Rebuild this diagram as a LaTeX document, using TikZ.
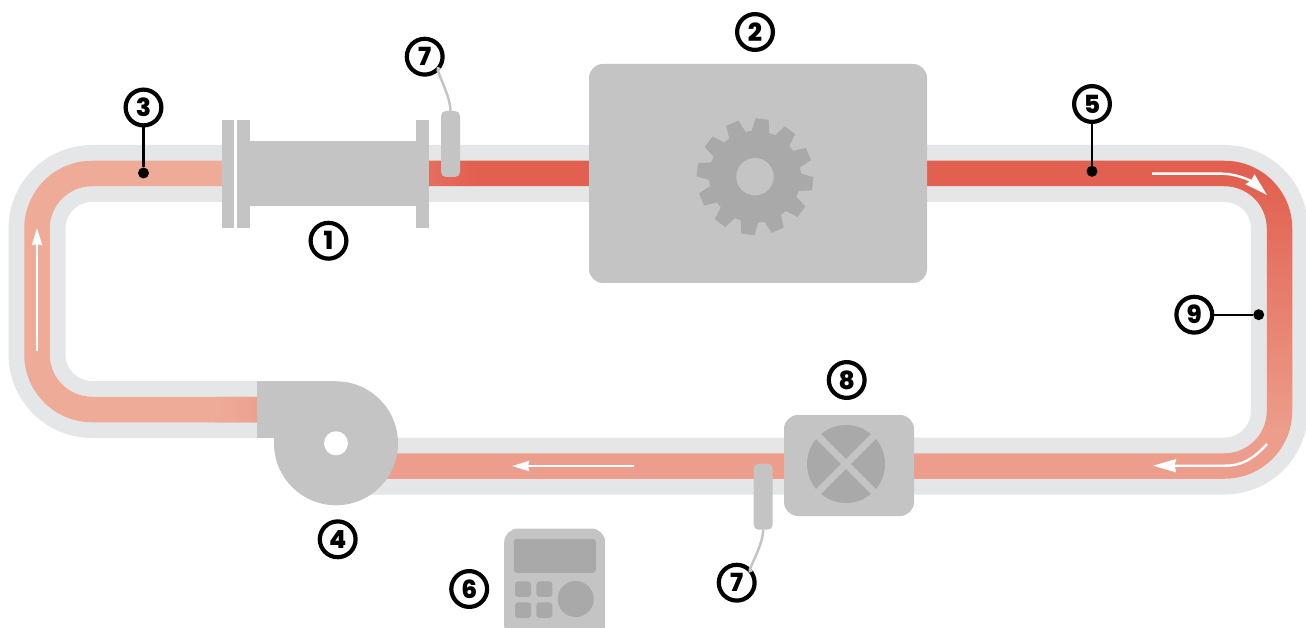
\documentclass[tikz,border=0pt]{standalone}
\usepackage{fontspec}
\setmainfont{Poppins}[BoldFont={Poppins ExtraBold}]
\usepackage{tikz}
\usetikzlibrary{arrows.meta,positioning,calc}
\definecolor{ductGrey}{HTML}{E5E6E8}
\definecolor{unitGrey}{HTML}{C4C4C4}
\definecolor{detailGrey}{HTML}{A9A9A9}
\definecolor{hotRed}{HTML}{E2604F}
\definecolor{warmRed}{HTML}{E56F60}
\definecolor{midSalmon}{HTML}{ED9D8B}
\definecolor{coolSalmon}{HTML}{EEAB98}
\definecolor{deepSalmon}{HTML}{EDA18F}

\begin{document}
\begin{tikzpicture}[
            x=1pt, y=-1pt,
            duct/.style={
                    draw=ductGrey,
                    line width=57pt,
                    rounded corners=55pt
                },
            unit/.style={
                    rectangle,
                    fill=unitGrey,
                    inner sep=0pt,
                    outer sep=0pt
                },
            panel/.style={
                    unit,
                    rounded corners=14pt
                },
            sensor/.style={
                    unit,
                    rounded corners=5pt,
                    minimum width=19pt,
                    minimum height=66pt
                },
            key/.style={
                    rectangle,
                    rounded corners=3pt,
                    fill=detailGrey,
                    inner sep=0pt,
                    minimum width=16pt,
                    minimum height=15.5pt
                },
            number/.style={
                    circle,
                    draw=black,
                    fill=white,
                    line width=4.2pt,
                    minimum size=35.8pt,
                    inner sep=0pt,
                    font=\fontsize{25}{25}\selectfont\bfseries
                },
            dot/.style={
                    circle,
                    fill=black,
                    inner sep=0pt,
                    minimum size=11pt
                },
            leader/.style={draw=black, line width=2.2pt},
            wire/.style={draw=unitGrey, line width=2.5pt},
            flow/.style={
                    -{Stealth[length=17pt, width=10pt, inset=1pt]},
                    draw=white,
                    line width=2.4pt
                },
            bigflow/.style={
                    -{Stealth[length=23pt, width=13pt, inset=1.5pt]},
                    draw=white,
                    line width=2.4pt
                }
        ]
        \useasboundingbox (0,0) rectangle (1306,628);
        \clip (0,0) rectangle (1306,628);

        \draw[duct] (330,466) -- (1279.5,466) -- (1279.5,173.5) -- (37,173.5) -- (37,409.5) -- (257,409.5);

        \begin{scope}
            \clip (330,478.75) [rounded corners=67.75pt] -- (1292.25,478.75) -- (1292.25,160.75)
                -- (24.25,160.75) -- (24.25,422.25) [sharp corners] -- (270,422.25) -- (270,396.75)
                [rounded corners=42.25pt] -- (49.75,396.75) -- (49.75,186.25)
                -- (1266.75,186.25) -- (1266.75,453.25) [sharp corners] -- (330,453.25) -- cycle;
            \fill[coolSalmon] (0,140) rectangle (300,440);
            \shade[left color=coolSalmon, right color=deepSalmon] (215,390) rectangle (258,430);
            \shade[left color=warmRed, right color=hotRed] (425,150) rectangle (475,200);
            \fill[hotRed] (475,150) rectangle (1300,175);
            \fill[hotRed] (475,175) rectangle (1225,200);
            \shade[top color=hotRed, bottom color=midSalmon] (1225,175) rectangle (1300,430);
            \fill[midSalmon] (300,430) rectangle (1300,490);
        \end{scope}

        \node[unit, minimum width=166pt, minimum height=65.5pt] (heater) at (333,173.5) {};
        \node[unit, minimum width=12pt, minimum height=108pt] (flangeA) at (228,174) {};
        \fill[white] (234,120) rectangle (237,228);
        \node[unit, minimum width=13pt, minimum height=108pt] (flangeB) at (243.5,174) {};
        \node[unit, minimum width=13pt, minimum height=108pt] (flangeC) at (422.5,174) {};

        \node[panel, minimum width=338pt, minimum height=219pt] (machine) at (758,173.5) {};
        \begin{scope}[shift={(755,176.7)}]
            \fill[detailGrey] (0,0) circle[radius=46];
            \foreach \a in {0,30,...,330} {
                    \fill[detailGrey] (\a-83-12:44) -- (\a-83-6.5:58.5) -- (\a-83+6.5:58.5) -- (\a-83+12:44) -- cycle;
                }
            \fill[unitGrey] (0,0) circle[radius=18.7];
        \end{scope}

        \fill[unitGrey] (336,443.3) circle[radius=62];
        \node[unit, minimum width=79pt, minimum height=57pt] (blower) at (296.5,409.5) {};
        \fill[white] (336,443.3) circle[radius=12];

        \node[panel, minimum width=130pt, minimum height=101pt] (cooler) at (849,465.5) {};
        \fill[detailGrey] (846,464) circle[radius=39];
        \draw[unitGrey, line width=7pt] (846,464) ++(-30,-30) -- ++(60,60);
        \draw[unitGrey, line width=7pt] (846,464) ++(30,-30) -- ++(-60,60);

        \node[panel, minimum width=101pt, minimum height=112pt] (control) at (554.7,584.5) {};
        \node[key, rounded corners=3pt, minimum width=82pt, minimum height=34pt] (display) at (554.8,555.8) {};
        \node[key] (keyA) at (523,589.2) {};
        \node[key, right=5pt of keyA] (keyB) {};
        \node[key, below=5pt of keyA] (keyC) {};
        \node[key, right=5pt of keyC] (keyD) {};
        \node[circle, fill=detailGrey, inner sep=0pt, minimum size=36pt] (knob) at (575.7,599) {};

        \node[number] (labelSensorA) at (424.7,56.7) {7};
        \node[sensor] (sensorA) at (450.5,144) {};
        \draw[wire] (sensorA.north) .. controls +(0,-18) and +(6,5) .. (labelSensorA);
        \node[number] (labelSensorB) at (736.7,582.7) {7};
        \node[sensor] (sensorB) at (763.2,496.7) {};
        \draw[wire] (sensorB.south) .. controls +(0,18) and +(6,-5) .. (labelSensorB);

        \node[number, below=14.5pt of heater, xshift=-4.5pt] (labelHeater) {1};
        \node[number, above=12pt of machine, xshift=-3pt] (labelMachine) {2};
        \node[number, above=15pt of cooler, xshift=-2.3pt] (labelCooler) {8};
        \node[number] (labelBlower) at (337.7,539.3) {4};
        \node[number, left=15pt of control, yshift=-4.5pt] (labelControl) {6};

        \node[dot] (dotCold) at (143.5,173) {};
        \node[number] (labelCold) at (143.5,107.5) {3};
        \draw[leader] (labelCold) -- (dotCold);
        \node[dot] (dotHot) at (1092,171.3) {};
        \node[number] (labelHot) at (1092,104) {5};
        \draw[leader] (labelHot) -- (dotHot);
        \node[dot] (dotDuct) at (1258.7,314.7) {};
        \node[number] (labelDuct) at (1194.3,314.7) {9};
        \draw[leader] (labelDuct) -- (dotDuct);

        \coordinate (riseFrom) at (37,351);
        \coordinate (riseTo) at (37,228);
        \coordinate (overFrom) at (1152,173.7);
        \coordinate (overTo) at (1267,195);
        \coordinate (backFrom) at (1267,444);
        \coordinate (backTo) at (1153,465.7);
        \coordinate (returnFrom) at (634,466);
        \coordinate (returnTo) at (512,466);

        \draw[flow] (riseFrom) -- (riseTo);
        \draw[flow] (returnFrom) -- (returnTo);
        \draw[bigflow] (overFrom) -- (1222,173.7) .. controls (1240,174) and (1254,183) .. (overTo);
        \draw[bigflow] (backFrom) .. controls (1254,458) and (1243,465.7) .. (1225,465.7) -- (backTo);
    \end{tikzpicture}
\end{document}
